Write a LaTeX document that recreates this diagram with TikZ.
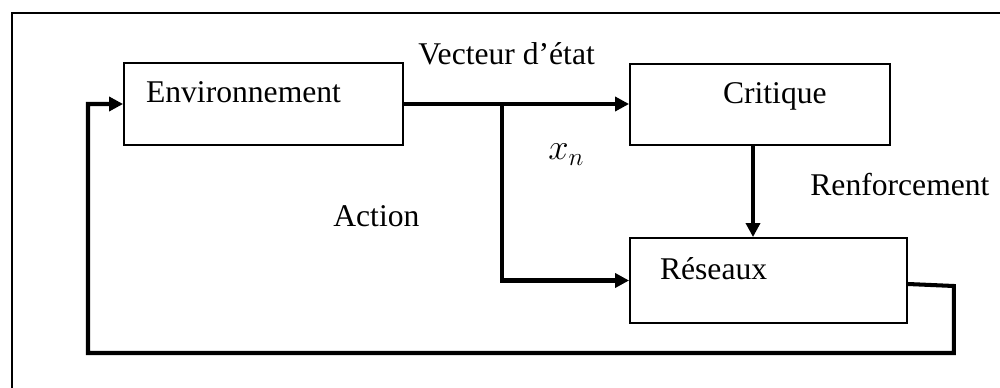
\documentclass[tikz,border=0pt]{standalone}
\usepackage{fontspec}
\setmainfont{Liberation Serif}
\usetikzlibrary{arrows.meta}

\begin{document}
\begin{tikzpicture}[
		x=0.02cm, y=-0.02cm,
		font=\fontsize{18}{22}\selectfont,
		bloc/.style={draw, line width=1.1pt, text height=0.45cm, text depth=0.49cm, align=left, inner xsep=0.44cm},
		lien/.style={line width=2.3pt},
		flow/.style={lien, -{Triangle[length=0.28cm,width=0.28cm]}},
		etiquette/.style={anchor=base west, inner sep=0pt}
	]
	\clip (0,0) rectangle (1000,388);
	\draw[line width=1.4pt] (12,13) rectangle (1020,410);

	% blocs
	\node[bloc, text width=4.7cm, minimum height=1.64cm] (env) at (263.5,104) {Environnement};
	\node[bloc, text width=4.32cm, minimum height=1.62cm] (crit) at (760,104.5) {\hspace*{1.42cm}Critique};
	\node[bloc, inner xsep=0.6cm, text width=4.34cm, minimum height=1.7cm] (res) at (768.5,280.5) {Réseaux};

	% liaisons
	\coordinate (split) at (502,104);
	\draw[flow] (env.east) -- (crit.west |- env.east);
	\draw[flow] (split) |- (res.west);
	\draw[flow] ([xshift=-0.14cm]crit.south) -- ([xshift=-0.14cm]crit.south |- res.north);
	\draw[flow] ([yshift=-0.07cm]res.east) -- ++(46,2) |- (88,353) coordinate (retour) |- (env.west);

	% textes
	\node[etiquette] (vect) at (418,65) {Vecteur d’état};
	\node[etiquette, font=\fontsize{21}{24}\selectfont] (xn) at (548,160) {$x_n$};
	\node[etiquette] (renf) at (810,195) {Renforcement};
	\node[etiquette] (act) at (333,227) {Action};
\end{tikzpicture}
\end{document}
